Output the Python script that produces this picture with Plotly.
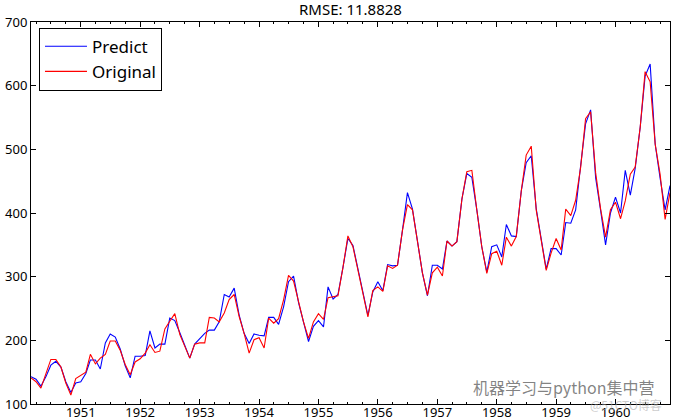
import pandas as pd
import plotly.graph_objects as go

# monthly passengers, Mar 1950 .. Dec 1960
START = "1950-03-01"

original = [
    141, 135, 125, 149, 170, 170, 158, 133, 114, 140,
    145, 150, 178, 163, 172, 178, 199, 199, 184, 162, 146, 166,
    171, 180, 193, 181, 183, 218, 230, 242, 209, 191, 172, 194,
    196, 196, 236, 235, 229, 243, 264, 272, 237, 211, 180, 201,
    204, 188, 235, 227, 234, 264, 302, 293, 259, 229, 203, 229,
    242, 233, 267, 269, 270, 315, 364, 347, 312, 274, 237, 278,
    284, 277, 317, 313, 318, 374, 413, 405, 355, 306, 271, 306,
    315, 301, 356, 348, 355, 422, 465, 467, 404, 347, 305, 336,
    340, 318, 362, 348, 363, 435, 491, 505, 404, 359, 310, 337,
    360, 342, 406, 396, 420, 472, 548, 559, 463, 407, 362, 405,
    417, 391, 419, 461, 472, 535, 622, 606, 508, 461, 390, 432,
]

predict = [
    143, 139, 128, 143, 161, 167, 158, 135, 118, 133,
    135, 148, 169, 169, 155, 196, 210, 205, 186, 160, 141, 175,
    175, 176, 215, 188, 194, 194, 235, 231, 212, 191, 172, 194,
    203, 211, 216, 216, 229, 272, 268, 282, 239, 211, 195, 210,
    208, 207, 236, 236, 225, 253, 292, 301, 259, 229, 198, 222,
    231, 221, 284, 265, 272, 315, 360, 349, 312, 274, 239, 276,
    292, 278, 319, 317, 318, 374, 432, 406, 355, 306, 270, 318,
    318, 312, 356, 348, 355, 422, 462, 456, 404, 347, 307, 347,
    350, 331, 382, 364, 363, 435, 479, 490, 406, 359, 312, 344,
    344, 334, 385, 384, 405, 475, 540, 562, 455, 405, 350, 400,
    425, 400, 467, 428, 470, 535, 615, 634, 508, 455, 405, 443,
]

rmse_text = "RMSE: 11.8828"
year_ticks = list(range(1951, 1961))

dates = pd.date_range(START, periods=len(original), freq="MS")

fig = go.Figure()

fig.add_trace(go.Scatter(x=dates, y=predict, mode="lines", name="Predict",
                         line=dict(color="#0000ff", width=1.1)))
fig.add_trace(go.Scatter(x=dates, y=original, mode="lines", name="Original",
                         line=dict(color="#ff0000", width=1.1)))

font = "Noto Sans, Open Sans, sans-serif"

fig.update_xaxes(
    range=[dates[0], dates[-1]],
    tickvals=[pd.Timestamp(f"{y}-01-01") for y in year_ticks],
    ticktext=[str(y) for y in year_ticks],
    ticks="inside", ticklen=5, tickcolor="black",
    minor=dict(ticks="inside", ticklen=2, dtick="M3", tick0="1950-01-01", tickcolor="black"),
    showline=True, linecolor="black", linewidth=1, mirror="allticks",
    showgrid=False, zeroline=False, automargin=False,
    ticklabelstandoff=-4,
    tickfont=dict(size=13, color="black", family=font),
)
fig.update_yaxes(
    range=[100, 700], dtick=100,
    ticks="inside", ticklen=5, tickcolor="black",
    showline=True, linecolor="black", linewidth=1, mirror="allticks",
    showgrid=False, zeroline=False, automargin=False,
    tickfont=dict(size=13, color="black", family=font),
)

fig.add_annotation(x=0.5, y=1, xref="paper", yref="paper", yanchor="bottom", yshift=1,
                   text=rmse_text, showarrow=False,
                   font=dict(size=15, color="black", family=font))

# watermark
fig.add_annotation(x=0.978, y=0.045, xref="paper", yref="paper", xanchor="right", yanchor="middle",
                   text="机器学习与python集中营", showarrow=False,
                   font=dict(size=16, color="rgba(90,90,90,0.75)", family="Noto Sans CJK SC"))
fig.add_annotation(x=0.99, y=0.0, xref="paper", yref="paper", xanchor="right", yanchor="middle",
                   text="@51CTO博客", showarrow=False,
                   font=dict(size=12, color="rgba(170,170,170,0.6)", family="Noto Sans CJK SC"))

fig.update_layout(
    width=674, height=420,
    margin=dict(l=31, r=4, t=22, b=16),
    paper_bgcolor="white", plot_bgcolor="white",
    showlegend=True,
    legend=dict(x=0.0125, y=0.985, xanchor="left", yanchor="top",
                bordercolor="black", borderwidth=1, bgcolor="white",
                font=dict(size=17, color="black", family=font),
                itemwidth=42, traceorder="normal"),
    font=dict(family=font),
)

fig.write_html("out.html", config={"displayModeBar": False},
               post_script="document.body.style.margin='0';document.body.style.overflow='hidden';")
